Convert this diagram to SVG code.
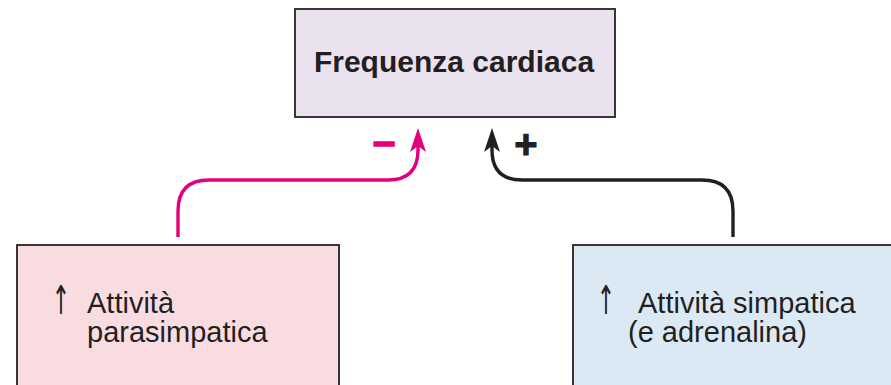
<svg xmlns="http://www.w3.org/2000/svg" width="891" height="385" viewBox="0 0 891 385">
  <style>
    .box { stroke: #3b3538; stroke-width: 2; }
    .title { font-family: "Liberation Sans", Arial, sans-serif; font-weight: bold; font-size: 30px; fill: #231f20; }
    .label { font-family: "Liberation Sans", Arial, sans-serif; font-size: 29px; fill: #231f20; }
    .up { font-family: "DejaVu Sans", sans-serif; font-size: 40px; fill: #231f20; }
    .link { fill: none; stroke-width: 3.4; }
  </style>
  <defs>
    <marker id="headPink" markerUnits="userSpaceOnUse" viewBox="-20 -10 32 20" refX="0" refY="0" markerWidth="32" markerHeight="20" orient="auto" overflow="visible">
      <path d="M9,0 L-15,-8 L-9,0 L-15,8 Z" fill="#e4007c"/>
    </marker>
    <marker id="headDark" markerUnits="userSpaceOnUse" viewBox="-20 -10 32 20" refX="0" refY="0" markerWidth="32" markerHeight="20" orient="auto" overflow="visible">
      <path d="M9,0 L-15,-8 L-9,0 L-15,8 Z" fill="#231f20"/>
    </marker>
  </defs>

  <rect width="891" height="385" fill="#ffffff"/>

  <g id="heart-rate">
    <rect class="box" x="295" y="9" width="320" height="108" fill="#ebe2ef"/>
    <text class="title" x="454" y="72" text-anchor="middle">Frequenza cardiaca</text>
  </g>

  <g id="parasympathetic">
    <rect class="box" x="17" y="245" width="322" height="150" fill="#f9dcdf"/>
    <text class="up" x="61" y="314" text-anchor="middle" transform="translate(61 0) scale(0.55 1) translate(-61 0)">↑</text>
    <text class="label" x="87" y="313">Attività</text>
    <text class="label" x="87" y="342">parasimpatica</text>
  </g>

  <g id="sympathetic">
    <rect class="box" x="573" y="245" width="330" height="150" fill="#dbe9f5"/>
    <text class="up" x="606" y="314" text-anchor="middle" transform="translate(606 0) scale(0.55 1) translate(-606 0)">↑</text>
    <text class="label" x="638" y="313">Attività simpatica</text>
    <text class="label" x="628" y="342">(e adrenalina)</text>
  </g>

  <g id="connectors">
    <path class="link" stroke="#e4007c" d="M178,237 V211 Q178,180 209,180 H388 Q418,180 418,150 V137" marker-end="url(#headPink)"/>
    <path class="link" stroke="#231f20" d="M733,237 V211 Q733,180 702,180 H522 Q492,180 492,150 V137" marker-end="url(#headDark)"/>
    <text x="384" y="155" text-anchor="middle" font-family="Liberation Sans, Arial, sans-serif" font-weight="bold" font-size="40" fill="#e4007c" stroke="#e4007c" stroke-width="1.6">–</text>
    <text x="526" y="158" text-anchor="middle" font-family="Liberation Sans, Arial, sans-serif" font-weight="bold" font-size="40" fill="#231f20" stroke="#231f20" stroke-width="1">+</text>
  </g>
</svg>
